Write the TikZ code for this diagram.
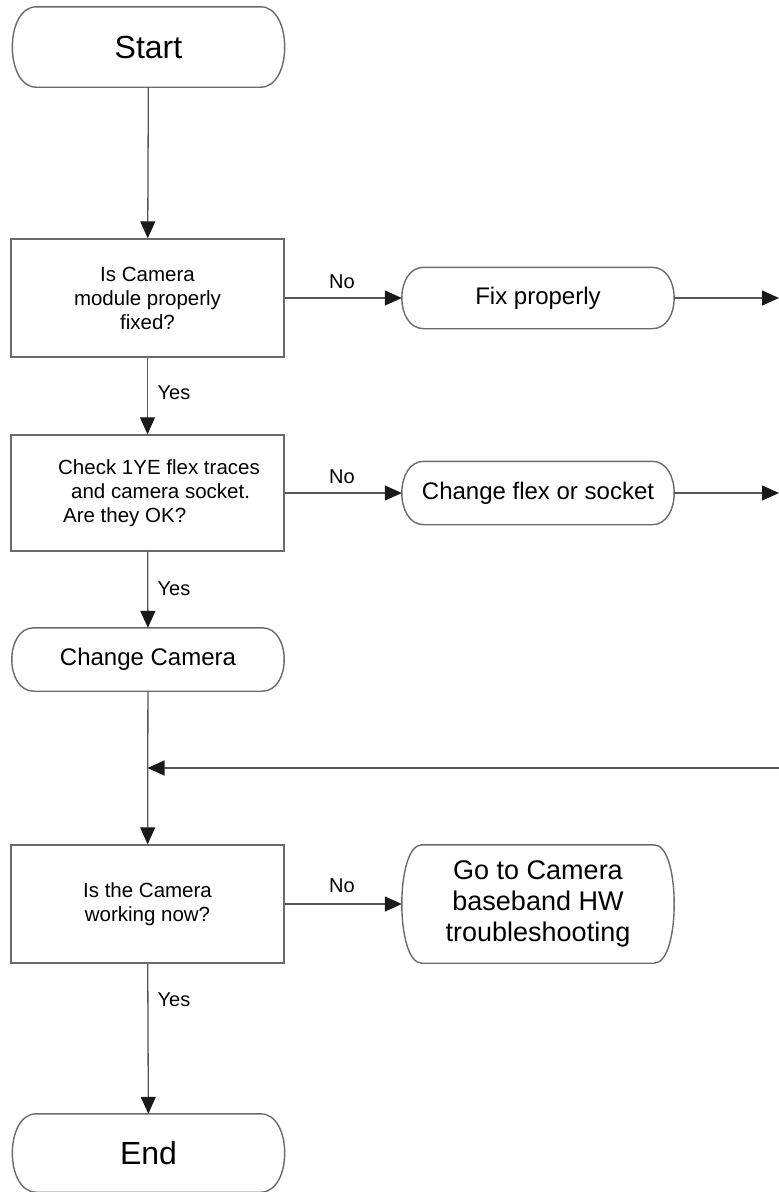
\documentclass[tikz,border=0pt]{standalone}
\usepackage{fontspec}
\setmainfont{Liberation Sans}
\usetikzlibrary{arrows.meta,calc}

\definecolor{edgegray}{HTML}{6A6A6A}
\definecolor{linegray}{HTML}{555555}
\definecolor{tipgray}{HTML}{1A1A1A}

\tikzset{
  box/.style={draw=edgegray, line width=1.4pt, minimum width=273pt, minimum height=118pt,
              inner sep=0pt, align=center, font=\fontsize{20.5}{24}\selectfont},
  term/.style={inner sep=0pt, align=center, minimum width=272pt},
  termline/.style={draw=edgegray, line width=1.4pt},
  flow/.style={draw=linegray, line width=1.3pt,
               -{Triangle[length=17pt,width=15pt,color=tipgray]}},
  lbl/.style={inner sep=0pt, font=\fontsize{20}{24}\selectfont},
}

% outline of a terminal: straight top and bottom, half-elliptic ends
\newcommand\drawterminal[2]{%
  \draw[termline] ($(#1.north west)+(#2,0)$) -- ($(#1.north east)+(-#2,0)$)
    .. controls ($(#1.north east)+(#2/3,0)$) and ($(#1.south east)+(#2/3,0)$) .. ($(#1.south east)+(-#2,0)$)
    -- ($(#1.south west)+(#2,0)$)
    .. controls ($(#1.south west)+(-#2/3,0)$) and ($(#1.north west)+(-#2/3,0)$) .. cycle;}

\begin{document}
\begin{tikzpicture}[x=1pt,y=-1pt]
  \useasboundingbox (0,0) rectangle (779,1192);

  % main column
  \node[term, minimum height=80pt, font=\fontsize{32}{36}\selectfont] (start) at (148.5,47) {Start};
  \node[box] (q1) at (147.5,298) {Is Camera\\module properly\\fixed?};
  \node[box, minimum height=116pt, align=left] (q2) at (147.5,493)
    {\hspace*{23pt}Check 1YE flex traces\\\hspace*{36pt}and camera socket.\\\hspace*{28pt}Are they OK?};
  \node[term, minimum height=63pt, font=\fontsize{24}{28}\selectfont] (cam) at (148,659.5) {Change Camera};
  \node[box] (q3) at (147.5,904) {Is the Camera\\working now?};
  \node[term, minimum height=78pt, font=\fontsize{32}{36}\selectfont] (end) at (148.5,1153) {End};

  % side actions
  \node[term, minimum height=61pt, font=\fontsize{24}{28}\selectfont] (fix) at (538,298) {Fix properly};
  \node[term, minimum height=63pt, font=\fontsize{24}{28}\selectfont] (flex) at (538,493) {Change flex or socket};
  \node[term, minimum height=118pt, font=\fontsize{27}{31}\selectfont] (hw) at (538,904)
    {Go to Camera\\baseband HW\\troubleshooting};

  \drawterminal{start}{24}
  \drawterminal{cam}{22}
  \drawterminal{end}{24}
  \drawterminal{fix}{22}
  \drawterminal{flex}{22}
  \drawterminal{hw}{20}

  % free ends at the right margin and the merge point
  \coordinate (r1) at (779,298);
  \coordinate (r2) at (779,493);
  \coordinate (r3) at (779,768);
  \coordinate (merge) at (147.5,768);

  % connectors
  \draw[flow] (start) -- (q1);
  \draw[flow] (q1) -- (fix);
  \draw[flow] (fix) -- (r1);
  \draw[flow] (q1) -- (q2);
  \draw[flow] (q2) -- (flex);
  \draw[flow] (flex) -- (r2);
  \draw[flow] (q2) -- (cam);
  \draw[flow] (cam) -- (q3);
  \draw[flow] (r3) -- (merge);
  \draw[flow] (q3) -- (hw);
  \draw[flow] (q3) -- (end);

  % branch labels
  \node[lbl] (no1) at (342,282) {No};
  \node[lbl] (no2) at (342,477) {No};
  \node[lbl] (no3) at (342,886) {No};
  \node[lbl] (yes1) at (174,393) {Yes};
  \node[lbl] (yes2) at (174,589) {Yes};
  \node[lbl] (yes3) at (174,1000) {Yes};
\end{tikzpicture}
\end{document}
